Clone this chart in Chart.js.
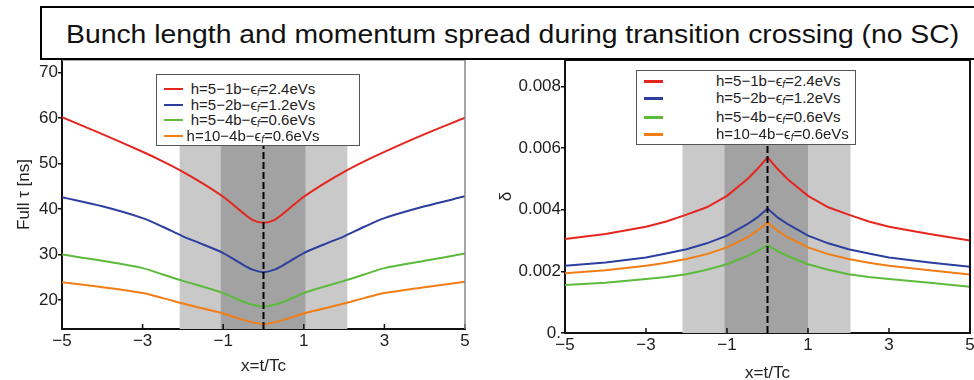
<!DOCTYPE html>
<html lang="en">
<head>
<meta charset="utf-8">
<title>Bunch length and momentum spread</title>
<script src="https://cdn.jsdelivr.net/npm/chart.js@4.4.0/dist/chart.umd.min.js"></script>
<style>
    html, body { margin: 0; padding: 0; background: #fff; overflow: hidden; width: 974px; height: 380px; }
    body { position: relative; font-family: 'Liberation Sans', Arial, sans-serif; }
    #title-box {
        position: absolute; left: 40px; top: 6px; width: 960px; height: 54px;
        border: 2px solid #000; box-sizing: border-box; background: #fff; z-index: 5;
        font-size: 26px; line-height: 52px; padding-left: 24px; color: #111; white-space: nowrap;
    }
    #title-box span { display: inline-block; transform: scaleX(1.09); transform-origin: left center; }
    .chart-box { position: absolute; top: 0; }
    #left-box { left: 0; width: 490px; height: 380px; }
    #right-box { left: 490px; width: 510px; height: 390px; }
    .legend {
        position: absolute; background: #fff; border: 1px solid #555; box-sizing: border-box;
        z-index: 4; font-size: 15px; color: #222;
    }
    .legend .row { position: absolute; left: 0; right: 0; height: 16px; line-height: 16px; }
    .legend .sw { position: absolute; left: 7px; width: 19px; top: 7px; }
    .legend .txt { position: absolute; white-space: nowrap; }
    .legend sub { font-size: 10px; font-style: italic; vertical-align: -2px; }
</style>
</head>
<body>
<div id="title-box"><span>Bunch length and momentum spread during transition crossing (no SC)</span></div>

<div class="chart-box" id="left-box"><canvas id="tau"></canvas></div>
<div class="chart-box" id="right-box"><canvas id="delta"></canvas></div>

<div class="legend" id="legend-left" style="left:156px; top:74px; width:204px; height:72px;"></div>
<div class="legend" id="legend-right" style="left:636px; top:70px; width:220px; height:75px;"></div>

<script>
    // x = t/Tc sample positions
    const xs = [-5, -4, -3, -2.5, -2, -1.5, -1, -0.5, -0.25, 0, 0.25, 0.5, 1, 1.5, 2, 2.5, 3, 4, 5];

    // full bunch length [ns]
    const redTau    = [60.2, 56.5, 52.6, 50.5, 48.2, 45.6, 42.7, 39.1, 37.5, 37.0, 37.5, 39.1, 42.7, 45.6, 48.2, 50.5, 52.6, 56.5, 60.1];
    const blueTau   = [42.6, 40.6, 38.0, 36.1, 34.0, 32.2, 30.3, 27.7, 26.6, 26.1, 26.6, 27.7, 30.3, 32.2, 34.0, 36.1, 38.0, 40.6, 42.8];
    const greenTau  = [30.0, 28.6, 27.0, 25.6, 24.2, 22.9, 21.5, 19.6, 18.9, 18.5, 18.9, 19.6, 21.5, 22.9, 24.2, 25.6, 27.0, 28.6, 30.2];
    const orangeTau = [23.9, 22.8, 21.5, 20.4, 19.2, 18.1, 17.0, 15.6, 15.0, 14.7, 15.0, 15.6, 17.0, 18.1, 19.2, 20.4, 21.5, 22.8, 24.0];

    // momentum spread delta
    const redDelta    = [0.00305, 0.00321, 0.00345, 0.00362, 0.00384, 0.00408, 0.00445, 0.00499, 0.00532, 0.00570, 0.00532, 0.00499, 0.00445, 0.00408, 0.00384, 0.00362, 0.00345, 0.00321, 0.00300];
    const blueDelta   = [0.00218, 0.00229, 0.00245, 0.00258, 0.00272, 0.00291, 0.00316, 0.00353, 0.00375, 0.00404, 0.00375, 0.00353, 0.00316, 0.00291, 0.00272, 0.00258, 0.00245, 0.00229, 0.00215];
    const orangeDelta = [0.00194, 0.00204, 0.00218, 0.00228, 0.00240, 0.00256, 0.00278, 0.00310, 0.00332, 0.00359, 0.00332, 0.00310, 0.00278, 0.00256, 0.00240, 0.00228, 0.00218, 0.00204, 0.00190];
    const greenDelta  = [0.00156, 0.00163, 0.00175, 0.00182, 0.00191, 0.00205, 0.00223, 0.00250, 0.00266, 0.00285, 0.00266, 0.00250, 0.00223, 0.00205, 0.00191, 0.00182, 0.00175, 0.00163, 0.00150];

    const seriesLabels = [
        'h=5−1b−ϵ<sub>f</sub>=2.4eVs',
        'h=5−2b−ϵ<sub>f</sub>=1.2eVs',
        'h=5−4b−ϵ<sub>f</sub>=0.6eVs',
        'h=10−4b−ϵ<sub>f</sub>=0.6eVs'
    ];
    const seriesColors = ['#e5261f', '#2d3f9e', '#5dba3c', '#f27d14'];

    const xTicks = [-5, -3, -1, 1, 3, 5];
    const tauTicks = [20, 30, 40, 50, 60, 70];
    const deltaTicks = [0, 0.002, 0.004, 0.006, 0.008];

    // shaded transition regions (x=t/Tc) and their top
    const tauOuter = [-2.08, 2.08], tauInner = [-1.06, 1.04], tauShadeTop = 54.1;
    const deltaOuter = [-2.1, 2.05], deltaInner = [-1.06, 1.0], deltaShadeTop = 0.00618;

    Chart.defaults.font.family = "'Liberation Sans', Arial, sans-serif";
    Chart.defaults.color = '#222';

    function pts(ys) {
        return xs.map((x, i) => ({ x: x, y: ys[i] }));
    }

    function fmtX(v) {
        return v < 0 ? '−' + Math.abs(v) : String(v);
    }

    const bandsPlugin = {
        id: 'bands',
        beforeDatasetsDraw(chart, args, o) {
            const { ctx, chartArea } = chart;
            const x = chart.scales.x, y = chart.scales.y;
            const top = y.getPixelForValue(o.top);
            ctx.save();
            ctx.fillStyle = '#c9c9c9';
            ctx.fillRect(x.getPixelForValue(o.outer[0]), top,
                x.getPixelForValue(o.outer[1]) - x.getPixelForValue(o.outer[0]), chartArea.bottom - top);
            ctx.fillStyle = '#a2a2a2';
            ctx.fillRect(x.getPixelForValue(o.inner[0]), top,
                x.getPixelForValue(o.inner[1]) - x.getPixelForValue(o.inner[0]), chartArea.bottom - top);
            ctx.restore();
        },
        afterDatasetsDraw(chart, args, o) {
            const { ctx, chartArea } = chart;
            const x = chart.scales.x, y = chart.scales.y;
            ctx.save();
            // dashed line at x = 0
            ctx.strokeStyle = '#000';
            ctx.lineWidth = 2;
            ctx.setLineDash([7, 3]);
            ctx.beginPath();
            ctx.moveTo(x.getPixelForValue(0), chartArea.bottom);
            ctx.lineTo(x.getPixelForValue(0), y.getPixelForValue(o.top));
            ctx.stroke();
            ctx.setLineDash([]);
            // inward x ticks
            ctx.strokeStyle = '#111';
            ctx.lineWidth = 1.5;
            xTicks.forEach(v => {
                const px = x.getPixelForValue(v);
                ctx.beginPath();
                ctx.moveTo(px, chartArea.bottom);
                ctx.lineTo(px, chartArea.bottom - 5);
                ctx.stroke();
            });
            // frame top / right
            ctx.strokeStyle = o.frameColor;
            ctx.lineWidth = o.frameWidth;
            ctx.beginPath();
            ctx.moveTo(chartArea.left, chartArea.top);
            ctx.lineTo(chartArea.right, chartArea.top);
            ctx.lineTo(chartArea.right, chartArea.bottom);
            ctx.stroke();
            ctx.restore();
        }
    };

    function makeChart(id, series, yMin, yMax, yTicks, yFmt, yTitle, yWidth, xHeight, pad, bands, titlePad) {
        const datasets = series.map((s, i) => ({
            data: pts(s),
            borderColor: seriesColors[i],
            borderWidth: 2,
            pointRadius: 0,
            tension: bands.smooth ? 0.3 : 0
        }));
        return new Chart(document.getElementById(id), {
            type: 'line',
            data: { datasets: datasets },
            options: {
                responsive: true,
                maintainAspectRatio: false,
                animation: false,
                layout: { padding: pad },
                plugins: {
                    legend: { display: false },
                    tooltip: { enabled: false },
                    bands: bands
                },
                scales: {
                    x: {
                        type: 'linear', min: -5, max: 5,
                        afterBuildTicks: s => { s.ticks = xTicks.map(v => ({ value: v })); },
                        afterFit: s => { s.height = xHeight; },
                        ticks: { font: { size: 17 }, padding: 2, callback: v => fmtX(v), maxRotation: 0 },
                        grid: { drawOnChartArea: false, drawTicks: false },
                        border: { color: '#111', width: 2 },
                        title: { display: true, text: 'x=t/Tc', font: { size: 17 }, padding: titlePad }
                    },
                    y: {
                        min: yMin, max: yMax,
                        afterBuildTicks: s => { s.ticks = yTicks.map(v => ({ value: v })); },
                        afterFit: s => { s.width = yWidth; },
                        ticks: { font: { size: 17 }, padding: 0, callback: yFmt },
                        grid: { drawOnChartArea: false, tickLength: 4, color: '#111', lineWidth: 1.5 },
                        border: { color: '#111', width: 2 },
                        title: { display: true, text: yTitle, font: { size: 17 }, padding: { top: 0, bottom: 4 } }
                    }
                }
            },
            plugins: [bandsPlugin]
        });
    }

    makeChart('tau', [redTau, blueTau, greenTau, orangeTau], 13.6, 72.8, tauTicks,
        v => String(v), 'Full τ [ns]', 48, 51, { top: 60, right: 25, bottom: 0, left: 14 },
        { outer: tauOuter, inner: tauInner, top: tauShadeTop, smooth: true, frameColor: '#888', frameWidth: 1.5 },
        { top: 0, bottom: 3 });

    makeChart('delta', [redDelta, blueDelta, greenDelta, orangeDelta], 0, 0.00886, deltaTicks,
        v => (v === 0 ? '0.' : v.toFixed(3)), 'δ', 69, 57, { top: 60, right: 30, bottom: 0, left: 6 },
        { outer: deltaOuter, inner: deltaInner, top: deltaShadeTop, smooth: false, frameColor: '#111', frameWidth: 2 },
        { top: 0, bottom: 6 });

    // legends
    function buildLegend(elId, rowTops, swH, textLeft, centered) {
        const box = document.getElementById(elId);
        seriesLabels.forEach((lab, i) => {
            const row = document.createElement('div');
            row.className = 'row';
            row.style.top = rowTops[i] + 'px';
            const sw = document.createElement('div');
            sw.className = 'sw';
            sw.style.borderTop = swH + 'px solid ' + seriesColors[i];
            const t = document.createElement('div');
            t.className = 'txt';
            t.innerHTML = lab;
            t.style.left = textLeft + 'px';
            if (centered) {
                t.style.width = '136px';
                t.style.textAlign = 'center';
            }
            row.appendChild(sw);
            row.appendChild(t);
            box.appendChild(row);
        });
    }
    buildLegend('legend-left', [6, 21.5, 37, 52.5], 2, 28, true);
    buildLegend('legend-right', [2, 19.3, 37.7, 55.3], 3, 79, false);
</script>
</body>
</html>
